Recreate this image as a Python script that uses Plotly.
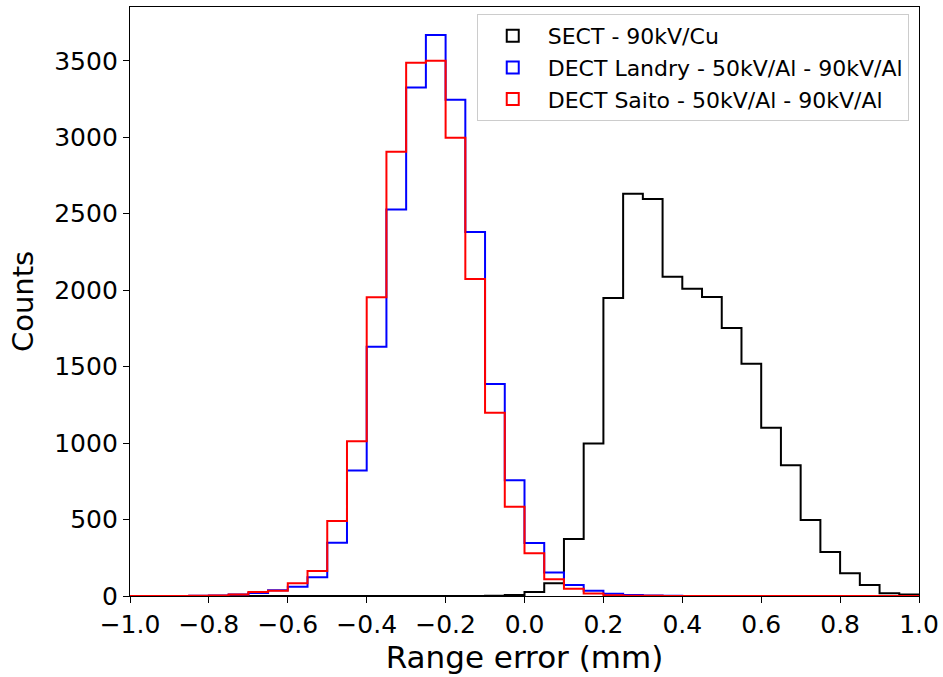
import plotly.graph_objects as go

# Histogram bin edges: -1.0 .. 1.0, width 0.05 (40 bins)
bin_start = -1.0
bin_width = 0.05
n_bins = 40

sect_counts = [0, 0, 0, 0, 0, 0, 0, 0, 0, 0,
               0, 0, 0, 0, 0, 0, 0, 0, 2, 6,
               26, 83, 373, 998, 1949, 2631, 2596, 2088, 2010, 1955,
               1753, 1519, 1101, 855, 497, 288, 148, 72, 18, 10]

landry_counts = [0, 0, 0, 1, 3, 10, 20, 38, 61, 122,
                 349, 820, 1630, 2527, 3325, 3669, 3246, 2381, 1386, 757,
                 347, 153, 72, 35, 15, 6, 3, 1, 0, 0,
                 0, 0, 0, 0, 0, 0, 0, 0, 0, 0]

saito_counts = [0, 0, 0, 1, 3, 10, 26, 34, 83, 163,
                490, 1012, 1953, 2906, 3488, 3501, 2997, 2073, 1199, 584,
                279, 109, 48, 17, 5, 2, 1, 0, 0, 0,
                0, 0, 0, 0, 0, 0, 0, 0, 0, 0]

series_names = ["SECT - 90kV/Cu",
                "DECT Landry - 50kV/Al - 90kV/Al",
                "DECT Saito - 50kV/Al - 90kV/Al"]
series_colors = ["black", "blue", "red"]

x_tick_vals = [-1.0, -0.8, -0.6, -0.4, -0.2, 0.0, 0.2, 0.4, 0.6, 0.8, 1.0]
x_tick_text = ["\u22121.0", "\u22120.8", "\u22120.6", "\u22120.4", "\u22120.2",
               "0.0", "0.2", "0.4", "0.6", "0.8", "1.0"]
y_tick_vals = [0, 500, 1000, 1500, 2000, 2500, 3000, 3500]

edges = [round(bin_start + i * bin_width, 4) for i in range(n_bins + 1)]


def step_xy(counts):
    # outline like matplotlib histtype='step'
    xs = [edges[0]] + edges[:-1] + [edges[-1], edges[-1]]
    ys = [0] + list(counts) + [counts[-1], 0]
    return xs, ys


fig = go.Figure()
for name, counts, color in zip(series_names,
                               [sect_counts, landry_counts, saito_counts],
                               series_colors):
    xs, ys = step_xy(counts)
    fig.add_trace(go.Scatter(x=xs, y=ys, mode="lines", line_shape="hv",
                             line=dict(color=color, width=2),
                             showlegend=False, legendgroup=name,
                             hoverinfo="skip"))

# legend entries (outlined rectangles like matplotlib patches)
for name, color in zip(series_names, series_colors):
    fig.add_trace(go.Bar(x=[None], y=[None], name=name, legendgroup=name,
                         marker=dict(color="rgba(255,255,255,0)",
                                     line=dict(color=color, width=2))))

font_family = "DejaVu Sans, Verdana, sans-serif"

fig.update_layout(
    width=943, height=677,
    margin=dict(l=130, r=24, t=7, b=81, autoexpand=False),
    paper_bgcolor="white", plot_bgcolor="white",
    font=dict(family=font_family, color="black", size=25),
    legend=dict(x=0.987, y=0.988, xanchor="right", yanchor="top",
                bgcolor="white", bordercolor="#cccccc", borderwidth=1,
                font=dict(size=22), tracegroupgap=0, itemwidth=60),
    showlegend=True,
)

fig.update_xaxes(range=[-1.0, 1.0], tickvals=x_tick_vals, ticktext=x_tick_text,
                 showgrid=False, zeroline=False, showline=True, mirror=True,
                 linecolor="black", linewidth=1.3, ticks="outside",
                 ticklen=6, tickwidth=1.3, tickcolor="black",
                 tickfont=dict(size=25),
                 title=dict(text="Range error (mm)", font=dict(size=31),
                            standoff=6))
fig.update_yaxes(range=[0, 3852], tickvals=y_tick_vals,
                 showgrid=False, zeroline=False, showline=True, mirror=True,
                 linecolor="black", linewidth=1.3, ticks="outside",
                 ticklen=6, tickwidth=1.3, tickcolor="black",
                 tickfont=dict(size=25),
                 title=dict(text="Counts", font=dict(size=29), standoff=12))

fig.write_html("out.html")
